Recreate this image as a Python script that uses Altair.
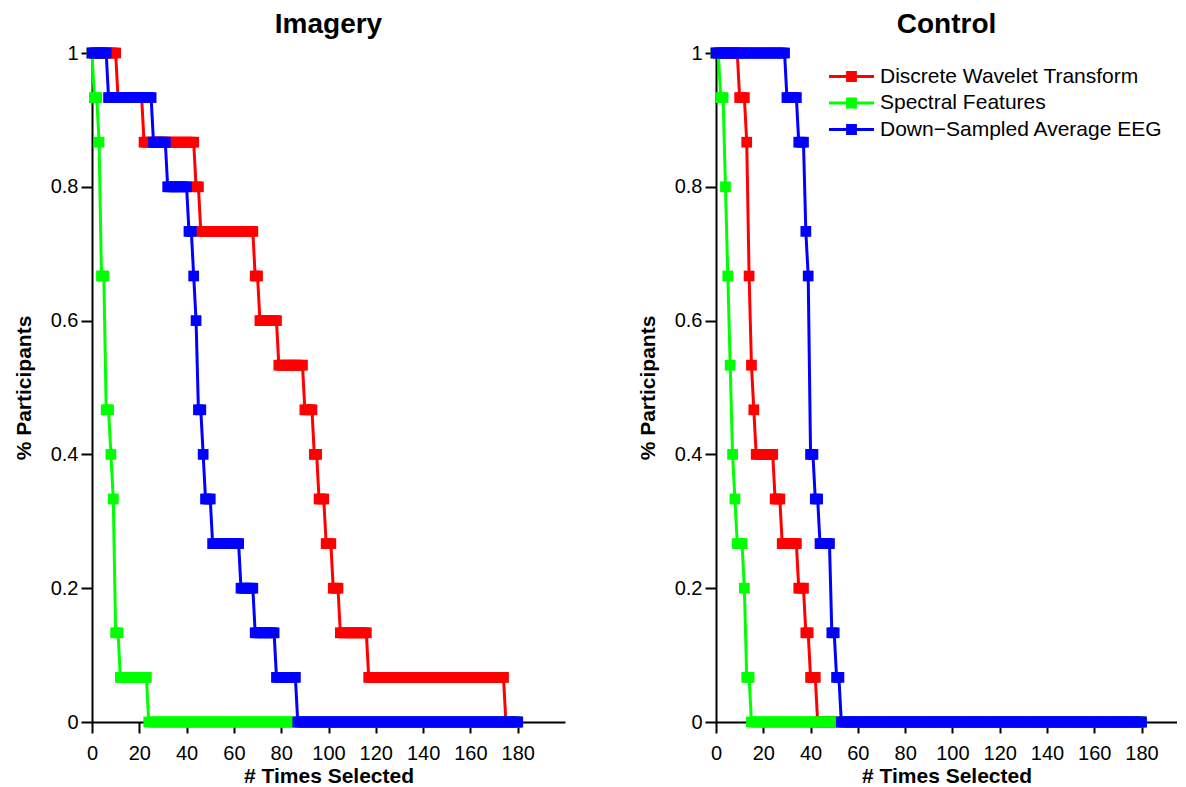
import altair as alt
import pandas as pd

SERIES = ["Discrete Wavelet Transform", "Spectral Features", "Down\u2212Sampled Average EEG"]
COLORS = ["#ff0000", "#00ff00", "#0000ff"]

# times each feature type was selected, one value per participant (15 participants)
IMAGERY_DWT = [11, 22, 44, 46, 69, 71, 79, 90, 94, 96, 99, 102, 105, 117, 175]
IMAGERY_SPECTRAL = [1, 3, 4, 4, 4, 6, 6, 6, 8, 9, 10, 10, 10, 12, 24]
IMAGERY_DSAE = [7, 26, 32, 41, 43, 44, 45, 45, 47, 48, 51, 63, 69, 78, 87]
CONTROL_DWT = [10, 13, 14, 14, 14, 15, 15, 16, 17, 25, 28, 35, 38, 40, 43]
CONTROL_SPECTRAL = [2, 4, 4, 5, 5, 6, 6, 7, 7, 8, 9, 12, 13, 13, 15]
CONTROL_DSAE = [30, 35, 38, 38, 39, 40, 40, 40, 40, 42, 44, 49, 49, 51, 53]

THRESHOLDS = list(range(0, 181))
X_TICKS = [0, 20, 40, 60, 80, 100, 120, 140, 160, 180]
Y_TICKS = [0, 0.2, 0.4, 0.6, 0.8, 1]

FONT = "Liberation Sans"
LEGEND_PATH = ("M-1,-0.07L1,-0.07L1,0.07L-1,0.07Z "
               "M-0.24,-0.24L0.24,-0.24L0.24,0.24L-0.24,0.24Z")


def curve(name, counts):
    n = len(counts)
    return pd.DataFrame({
        "series": name,
        "x": THRESHOLDS,
        "y": [sum(1 for c in counts if c > t) / n for t in THRESHOLDS],
    })


def panel(title, groups, width, xmax):
    xenc = alt.X("x:Q", scale=alt.Scale(domain=[0, xmax], nice=False, zero=False),
                 axis=alt.Axis(values=X_TICKS, title="# Times Selected", labelFlush=False,
                               labelPadding=10, titlePadding=2))
    yenc = alt.Y("y:Q", scale=alt.Scale(domain=[0, 1], nice=False),
                 axis=alt.Axis(values=Y_TICKS, format="~g", title="% Participants",
                               labelPadding=3, titlePadding=16))
    layers = []
    for name, color, counts in groups:
        df = curve(name, counts)
        base = alt.Chart(df)
        layers.append(base.mark_line(color=color, strokeWidth=3).encode(x=xenc, y=yenc))
        layers.append(base.mark_point(shape="square", filled=True, size=115, opacity=1,
                                      strokeWidth=0).encode(
            x=xenc, y=yenc,
            color=alt.Color("series:N", scale=alt.Scale(domain=SERIES, range=COLORS),
                            legend=alt.Legend(title=None, orient="none", legendX=737, legendY=13,
                                              symbolType=LEGEND_PATH, symbolSize=2025,
                                              symbolStrokeWidth=0, symbolOpacity=1,
                                              labelFont=FONT, labelFontSize=21,
                                              labelColor="black", labelLimit=0,
                                              clipHeight=21, rowPadding=4.5,
                                              labelOffset=6, padding=0))))
    return alt.layer(*layers).properties(
        width=width, height=669,
        title=alt.TitleParams(title, fontSize=28, font=FONT, fontWeight="bold",
                              anchor="middle", frame="group", offset=4, color="black"))


left = panel("Imagery",
             [(SERIES[0], COLORS[0], IMAGERY_DWT),
              (SERIES[1], COLORS[1], IMAGERY_SPECTRAL),
              (SERIES[2], COLORS[2], IMAGERY_DSAE)], 473, 200)
right = panel("Control",
              [(SERIES[0], COLORS[0], CONTROL_DWT),
               (SERIES[1], COLORS[1], CONTROL_SPECTRAL),
               (SERIES[2], COLORS[2], CONTROL_DSAE)], 461, 195)

chart = alt.hconcat(left, right, spacing=72).properties(
    padding={"left": 5, "top": 3, "right": 0, "bottom": 0}
).configure_view(stroke=None).configure_axis(
    grid=False, labelFont=FONT, labelFontSize=20, labelColor="black",
    titleFont=FONT, titleFontSize=21, titleFontWeight="bold", titleColor="black",
    domainColor="black", domainWidth=2, tickColor="black", tickWidth=2, tickSize=11
)

chart.save("out.html", embed_options={"renderer": "svg", "actions": False})
